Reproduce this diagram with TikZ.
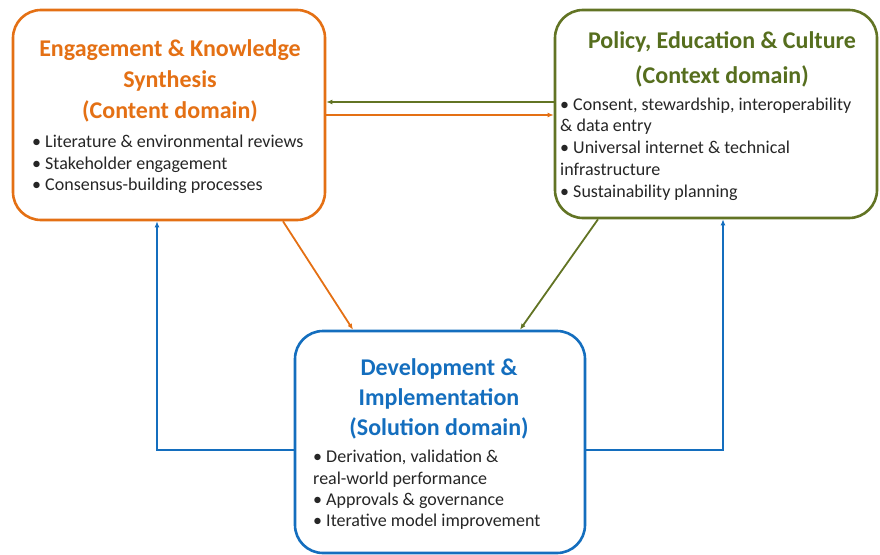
\documentclass[tikz,border=0pt]{standalone}
\usepackage{fontspec}
\setmainfont{Carlito}
\usetikzlibrary{arrows.meta}
\definecolor{orng}{RGB}{228,112,20}
\definecolor{olive}{RGB}{98,116,36}
\definecolor{oltext}{RGB}{86,110,30}
\definecolor{blu}{RGB}{20,110,190}
\definecolor{bodytxt}{RGB}{38,38,38}
\tikzset{
  box/.style={draw, line width=2.6pt, rounded corners=28pt, fill=white},
  conn/.style={line width=1.8pt, -{Latex[length=6pt,width=5pt]}},
  ttl/.style={inner sep=0pt, align=center, font=\bfseries\fontsize{24}{31}\selectfont},
  body/.style={inner sep=0pt, align=left, text=bodytxt, font=\fontsize{18}{21.6}\selectfont, anchor=west},
}
\begin{document}
\begin{tikzpicture}[x=1pt,y=-1pt]
\useasboundingbox (0,0) rectangle (880,554);
% boxes
\node[box, draw=orng, minimum width=312pt, minimum height=210pt] (or) at (169,115) {};
\node[box, draw=olive, minimum width=322pt, minimum height=208pt] (gr) at (716,114) {};
\node[box, draw=blu, minimum width=290pt, minimum height=222pt] (bl) at (440,442) {};
% titles
\node[ttl, text=orng] (ort) at (170,81) {Engagement \& Knowledge\\Synthesis\\(Content domain)};
\node[ttl, text=oltext, font=\bfseries\fontsize{24}{35}\selectfont] (grt) at (722,59.5) {Policy, Education \& Culture\\(Context domain)};
\node[ttl, text=blu, font=\bfseries\fontsize{24}{30}\selectfont] (blt) at (439,399) {Development \&\\Implementation\\(Solution domain)};
% bodies
\node[body] (orb) at (32,164.5) {• Literature \& environmental reviews\\• Stakeholder engagement\\• Consensus-building processes};
\node[body, font=\fontsize{18}{21.8}\selectfont] (grb) at (560,149) {• Consent, stewardship, interoperability\\\& data entry\\• Universal internet \& technical\\infrastructure\\• Sustainability planning};
\node[body, font=\fontsize{18}{21.3}\selectfont] (blb) at (313,490) {• Derivation, validation \&\\real-world performance\\• Approvals \& governance\\• Iterative model improvement};
% connectors
\draw[conn, olive] (gr.west |- 0,102) -- (or.east |- 0,102);
\draw[conn, orng] (or.east |- 0,115) -- (gr.west |- 0,115);
\draw[conn, orng] (or.south -| 283,0) -- (bl.north -| 353,0);
\draw[conn, olive] (gr.south -| 598,0) -- (bl.north -| 520,0);
\draw[conn, blu] (bl.west |- 0,450) -| (or.south -| 157,0);
\draw[conn, blu] (bl.east |- 0,450) -| (gr.south -| 723,0);
\end{tikzpicture}
\end{document}
